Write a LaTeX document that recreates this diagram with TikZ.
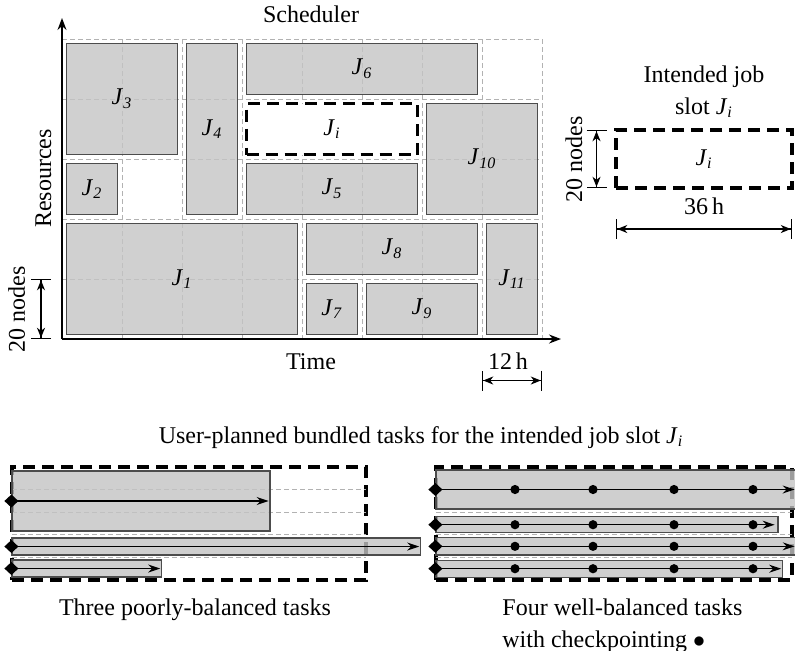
\documentclass[tikz,border=0pt]{standalone}
\usepackage{fontspec}
\setmainfont{Liberation Serif}
\usetikzlibrary{arrows.meta}

\newcommand{\jlab}[1]{\textit{J}\textsubscript{\textit{#1}}}

\begin{document}
\begin{tikzpicture}[
  x=0.5pt,y=-0.5pt,
  every node/.style={font=\fontsize{12}{16}\selectfont,inner sep=0pt},
  gridline/.style={dash pattern=on 2.5pt off 1.5pt,gray!60,line width=0.45pt},
  jobbox/.style={rectangle,draw=black!70,fill=black!23,fill opacity=0.8,
                 text opacity=1,line width=0.6pt},
  slotbox/.style={rectangle,draw=black,fill=white,line width=1.9pt,
                  dash pattern=on 6pt off 3.5pt},
  cells/.style 2 args={minimum width=#1*30pt-4.5pt,minimum height=#2*30pt-4.5pt},
  axis/.style={line width=0.8pt,-{Stealth[length=6pt,width=4.5pt,inset=2pt]}},
  dim/.style={line width=0.6pt,
              {Bar[width=10pt,sep=0pt]Stealth[length=5pt,width=4pt,inset=1.5pt,sep=0pt]}-{Stealth[length=5pt,width=4pt,inset=1.5pt,sep=0pt]Bar[width=10pt,sep=0pt]}},
  task/.style={line width=0.7pt,
               {Diamond[length=7pt,width=6.5pt]}-{Stealth[length=6pt,width=4pt,inset=2pt]},
               shorten <=-3.5pt,shorten >=1pt},
]
  \path[use as bounding box] (0,0) rectangle (795,650);
  \clip (0,0) rectangle (795,650);

  % scheduler grid
  \foreach \gy in {39,99,...,339}
    \draw[gridline] (62,\gy) -- (542,\gy);
  \foreach \gx in {62,122,...,542}
    \draw[gridline] (\gx,39) -- (\gx,339);

  \node[jobbox,cells={2}{2}] (j3)  at (122,99)  {\jlab{3}};
  \node[jobbox,cells={1}{3}] (j4)  at (212,129) {\jlab{4}};
  \node[jobbox,cells={4}{1}] (j6)  at (362,69)  {\jlab{6}};
  \node[jobbox,cells={2}{2}] (j10) at (482,159) {\jlab{10}};
  \node[jobbox,cells={1}{1}] (j2)  at (92,189)  {\jlab{2}};
  \node[jobbox,cells={3}{1}] (j5)  at (332,189) {\jlab{5}};
  \node[jobbox,cells={4}{2}] (j1)  at (182,279) {\jlab{1}};
  \node[jobbox,cells={3}{1}] (j8)  at (392,249) {\jlab{8}};
  \node[jobbox,cells={1}{2}] (j11) at (512,279) {\jlab{11}};
  \node[jobbox,cells={1}{1}] (j7)  at (332,309) {\jlab{7}};
  \node[jobbox,cells={2}{1}] (j9)  at (422,309) {\jlab{9}};
  \node[slotbox,cells={3}{1}] (ji) at (332,129) {\jlab{i}};

  % axes
  \coordinate (origin) at (62,339);
  \coordinate (ytop) at (62,18);
  \coordinate (xend) at (561,339);
  \draw[axis] (origin) -- (ytop);
  \draw[axis] (origin) -- (xend);
  \node[anchor=base] (sched) at (311,22.5) {Scheduler};
  \node[anchor=base,rotate=90] (res) at (51,178.5) {Resources};
  \node[anchor=base] (time) at (311,369) {Time};

  \coordinate (n20a) at (41,279);
  \coordinate (n20b) at (41,339);
  \draw[dim] (n20a) -- (n20b);
  \node[anchor=base,rotate=90] (n20lab) at (25,309) {20 nodes};
  \coordinate (h12a) at (482,380.5);
  \coordinate (h12b) at (542,380.5);
  \draw[dim] (h12a) -- (h12b);
  \node[anchor=base] (h12lab) at (508,369) {12\,h};

  % intended slot
  \node[anchor=north,align=center] (slotlab) at (704,65) {Intended job\\slot \jlab{i}};
  \node[slotbox,minimum width=88pt,minimum height=29pt] (slot) at (704,159) {\jlab{i}};
  \coordinate (s20a) at (596.5,130);
  \coordinate (s20b) at (596.5,188);
  \draw[dim] (s20a) -- (s20b);
  \node[anchor=base,rotate=90] (s20lab) at (582,159) {20 nodes};
  \coordinate (h36a) at (616,229);
  \coordinate (h36b) at (792,229);
  \draw[dim] (h36a) -- (h36b);
  \node[anchor=base] (h36lab) at (704,214) {36\,h};

  \node[anchor=base] (bundle) at (421,443)
    {User-planned bundled tasks for the intended job slot \jlab{i}};

  % three poorly-balanced tasks
  \node[slotbox,minimum width=177pt,minimum height=56.5pt] (slotl) at (189,523.3) {};
  \foreach \ry in {489.3,512,534.7,557.3}
    \draw[gridline] (12,\ry) -- (366,\ry);
  \node[jobbox,minimum width=129pt,minimum height=30pt]     (t1) at (141,501)     {};
  \node[jobbox,minimum width=204.3pt,minimum height=8.5pt]  (t2) at (216.3,546.5) {};
  \node[jobbox,minimum width=74.8pt,minimum height=8.5pt]   (t3) at (86.8,568.5)  {};
  \draw[task] (t1.west) -- (t1.east);
  \draw[task] (t2.west) -- (t2.east);
  \draw[task] (t3.west) -- (t3.east);
  \node[anchor=base] (capl) at (195,615) {Three poorly-balanced tasks};

  % four well-balanced tasks
  \node[slotbox,minimum width=178pt,minimum height=56.5pt] (slotr) at (614,523.3) {};
  \foreach \ry in {489.3,512,534.7,557.3}
    \draw[gridline] (436,\ry) -- (792,\ry);
  \node[jobbox,minimum width=181pt,minimum height=19.5pt]   (ta) at (617,489.5)   {};
  \node[jobbox,minimum width=171pt,minimum height=8pt]      (tb) at (607,524.7)   {};
  \node[jobbox,minimum width=181pt,minimum height=8.6pt]    (tc) at (617,546.3)   {};
  \node[jobbox,minimum width=173.3pt,minimum height=8.6pt]  (td) at (609.3,568.7) {};
  \draw[task,shorten >=2pt] (ta.west) -- (ta.east);
  \draw[task,shorten >=2pt] (tb.west) -- (tb.east);
  \draw[task,shorten >=2pt] (tc.west) -- (tc.east);
  \draw[task] (td.west) -- (td.east);
  \foreach \ty in {489.5,524.7,546.3,568.7}
    \foreach \cx in {515,593,674,753}
      \fill (\cx,\ty) circle (2.3pt);
  \node[anchor=north west,align=left] (capr) at (502,598.5)
    {Four well-balanced tasks\\with checkpointing $\bullet$};
\end{tikzpicture}
\end{document}
